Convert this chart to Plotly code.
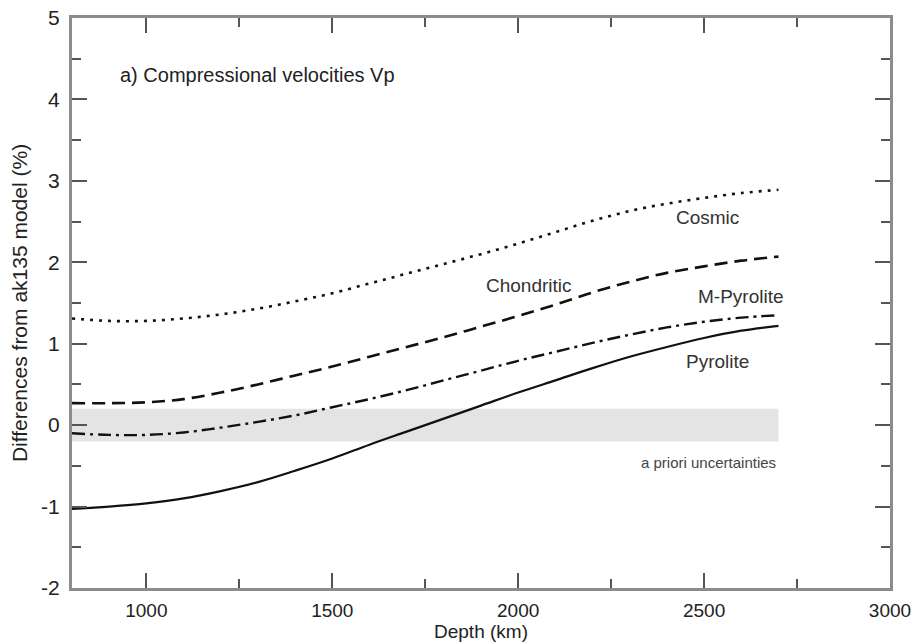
import plotly.graph_objects as go

depth = [800, 900, 1000, 1100, 1200, 1300, 1400, 1500, 1600, 1700,
         1800, 1900, 2000, 2100, 2200, 2300, 2400, 2500, 2600, 2700]

cosmic = [1.31, 1.28, 1.28, 1.31, 1.36, 1.43, 1.52, 1.62, 1.74, 1.86,
          1.98, 2.10, 2.23, 2.37, 2.51, 2.63, 2.72, 2.79, 2.85, 2.89]
chondritic = [0.27, 0.27, 0.28, 0.32, 0.40, 0.50, 0.61, 0.72, 0.84, 0.96,
              1.08, 1.21, 1.34, 1.48, 1.63, 1.76, 1.87, 1.95, 2.02, 2.07]
m_pyrolite = [-0.10, -0.12, -0.12, -0.09, -0.03, 0.04, 0.12, 0.22, 0.32, 0.43,
              0.55, 0.67, 0.79, 0.90, 1.01, 1.11, 1.20, 1.27, 1.32, 1.35]
pyrolite = [-1.03, -1.00, -0.96, -0.90, -0.81, -0.70, -0.56, -0.41, -0.24, -0.08,
            0.08, 0.24, 0.40, 0.55, 0.70, 0.84, 0.96, 1.07, 1.16, 1.22]

band_depth = [800, 2700]
band_half = 0.2

x_ticks = [1000, 1500, 2000, 2500, 3000]
x_tick_text = ["1000", "1500", "2000", "2500", "3000"]
y_ticks = [-2, -1, 0, 1, 2, 3, 4, 5]
y_tick_text = ["-2", "-1", "0", "1", "2", "3", "4", "5"]

FONT = "Liberation Sans, Arial, sans-serif"
TXT = "#222222"
fig = go.Figure()

# a priori uncertainty band
fig.add_trace(go.Scatter(
    x=[band_depth[0], band_depth[1], band_depth[1], band_depth[0], band_depth[0]],
    y=[-band_half, -band_half, band_half, band_half, -band_half],
    fill="toself", fillcolor="#e4e4e4", line=dict(width=0), mode="lines",
    hoverinfo="skip", showlegend=False))

line_specs = [
    (cosmic, "Cosmic", "3px,6px", 2.6),
    (chondritic, "Chondritic", "13px,7px", 2.6),
    (m_pyrolite, "M-Pyrolite", "13px,5px,3px,5px", 2.4),
    (pyrolite, "Pyrolite", "solid", 2.2),
]
for vals, name, dash, w in line_specs:
    fig.add_trace(go.Scatter(x=depth, y=vals, mode="lines", name=name,
                             line=dict(color="#111111", width=w, dash=dash,
                                       shape="spline"),
                             showlegend=False))

labels = [
    ("Cosmic", 2510, 2.55),
    ("Chondritic", 2030, 1.72),
    ("M-Pyrolite", 2600, 1.58),
    ("Pyrolite", 2535, 0.78),
]
for text, x, y in labels:
    fig.add_annotation(x=x, y=y, text=text, showarrow=False,
                       font=dict(family=FONT, size=19, color="#333333"))

fig.add_annotation(x=2700, y=-0.46, text="a priori uncertainties", showarrow=False,
                   xanchor="right", font=dict(family=FONT, size=15, color="#444444"))
fig.add_annotation(x=925, y=4.3, text="a) Compressional velocities Vp", showarrow=False,
                   xanchor="left", font=dict(family=FONT, size=20, color=TXT))

axis_common = dict(
    showline=True, linecolor="#8c8c8c", linewidth=3, mirror="ticks",
    ticks="inside", ticklen=15, tickwidth=1.5, tickcolor="#555555",
    showgrid=False, zeroline=False,
)

fig.update_xaxes(range=[800, 3000], tickvals=x_ticks, ticktext=x_tick_text,
                 tickfont=dict(family=FONT, size=19, color=TXT),
                 minor=dict(ticks="inside", ticklen=9, tickwidth=1.5,
                            tickcolor="#555555", dtick=250, tick0=750, showgrid=False),
                 title=dict(text="Depth (km)", standoff=1,
                            font=dict(family=FONT, size=19, color=TXT)),
                 ticklabelstandoff=3,
                 **axis_common)
fig.update_yaxes(range=[-2, 5], tickvals=y_ticks, ticktext=y_tick_text,
                 tickfont=dict(family=FONT, size=21, color=TXT),
                 minor=dict(ticks="inside", ticklen=9, tickwidth=1.5,
                            tickcolor="#555555", dtick=0.5, tick0=-2, showgrid=False),
                 title=dict(text="Differences from ak135 model (%)", standoff=8,
                            font=dict(family=FONT, size=21, color=TXT)),
                 ticklabelstandoff=5,
                 **axis_common)

fig.update_layout(
    width=916, height=644,
    margin=dict(l=72, r=26, t=18, b=56, autoexpand=False),
    plot_bgcolor="white", paper_bgcolor="white",
    font=dict(family=FONT, size=17),
)

fig.write_html("out.html", config={"displayModeBar": False})
